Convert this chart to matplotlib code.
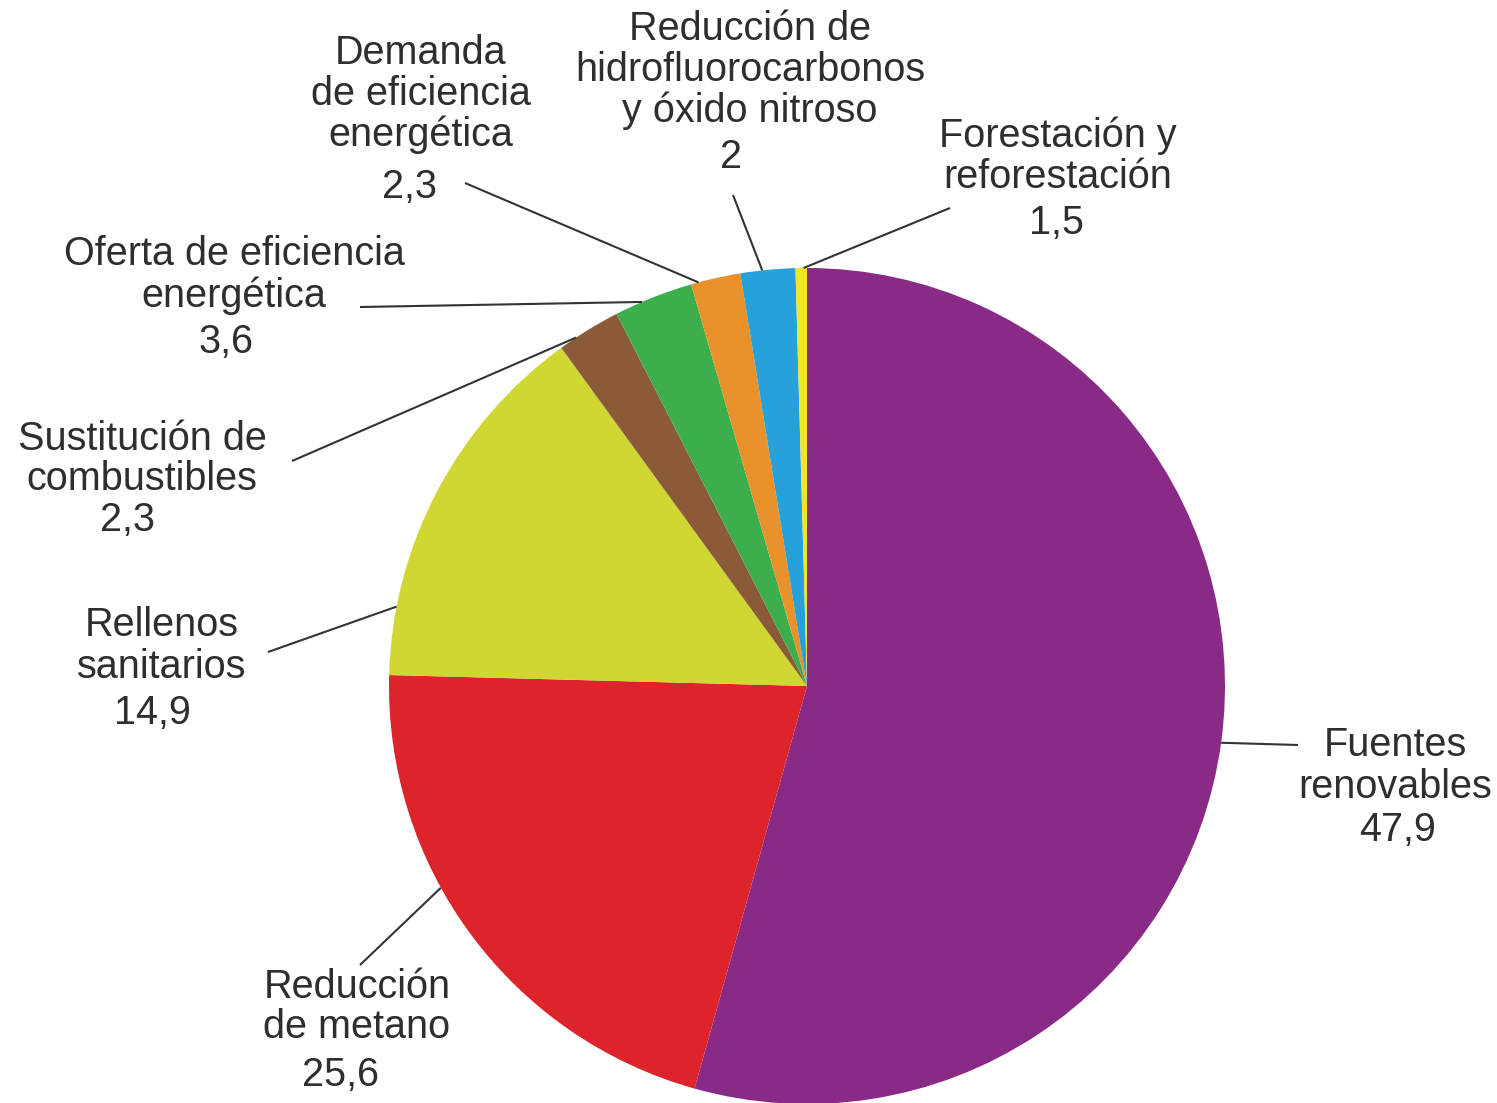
import numpy as np
import matplotlib.pyplot as plt

# Slice sizes as drawn (share of the circle, clockwise from 12 o'clock)
categories = ["Fuentes\nrenovables", "Reducción\nde metano", "Rellenos\nsanitarios",
              "Sustitución de\ncombustibles", "Oferta de eficiencia\nenergética",
              "Demanda\nde eficiencia\nenergética",
              "Reducción de\nhidrofluorocarbonos\ny óxido nitroso",
              "Forestación y\nreforestación"]
shares = [54.33, 21.08, 14.58, 2.47, 3.06, 1.92, 2.11, 0.44]
# values printed under each label
label_values = ["47,9", "25,6", "14,9", "2,3", "3,6", "2,3", "2", "1,5"]
slice_colors = ["#8A2A87", "#DD242B", "#D0D632", "#8B5A38",
                "#3CAE4B", "#E9912B", "#26A1DA", "#F0E628"]

W, H = 1497, 1103
CX, CY, R = 807, 686, 418   # pie centre / radius in image pixels

# where along each slice the leader line touches the rim (0..1 of the slice)
anchor_frac = [0.50, 0.60, 0.18, 0.28, 0.35, 0.15, 0.40, 0.70]
# far end of each leader line (image pixels, y down)
line_end = [(1298, 745), (360, 965), (268, 652), (292, 461),
            (360, 307), (465, 183), (733, 195), (950, 208)]
# label block centres and value positions
name_pos = [(1395, 766), (357, 1007), (162, 646), (142, 459),
            (234, 275), (421, 94), (750, 70), (1058, 156)]
value_pos = [(1398, 830), (340, 1075), (152, 713), (128, 520),
             (226, 342), (410, 187), (731, 157), (1057, 223)]

plt.rcParams['font.family'] = ['Liberation Sans', 'DejaVu Sans']
TXT = '#2e2e2e'
FS = 28.5

fig = plt.figure(figsize=(W / 100, H / 100), dpi=100)
ax = fig.add_axes([0, 0, 1, 1])

ax.pie(shares, colors=slice_colors, startangle=90, counterclock=False,
       radius=R, center=(CX, H - CY), frame=True,
       wedgeprops=dict(linewidth=0))
ax.set_xlim(0, W)
ax.set_ylim(0, H)
ax.set_aspect('auto')
ax.axis('off')

start = np.concatenate([[0], np.cumsum(shares)[:-1]]) / sum(shares) * 360
span = np.array(shares) / sum(shares) * 360

for i in range(len(shares)):
    cw = start[i] + anchor_frac[i] * span[i]
    ang = np.deg2rad(90 - cw)
    x0 = CX + R * np.cos(ang)
    y0 = (H - CY) + R * np.sin(ang)
    x1, y1 = line_end[i]
    ax.plot([x0, x1], [y0, H - y1], color='#333333', lw=1.5,
            solid_capstyle='butt')
    nx, ny = name_pos[i]
    ax.text(nx, H - ny, categories[i], ha='center', va='center',
            fontsize=FS, color=TXT, linespacing=1.1)
    vx, vy = value_pos[i]
    ax.text(vx, H - vy, label_values[i], ha='center', va='center',
            fontsize=FS, color=TXT)

fig.savefig('out.png', dpi=100)
